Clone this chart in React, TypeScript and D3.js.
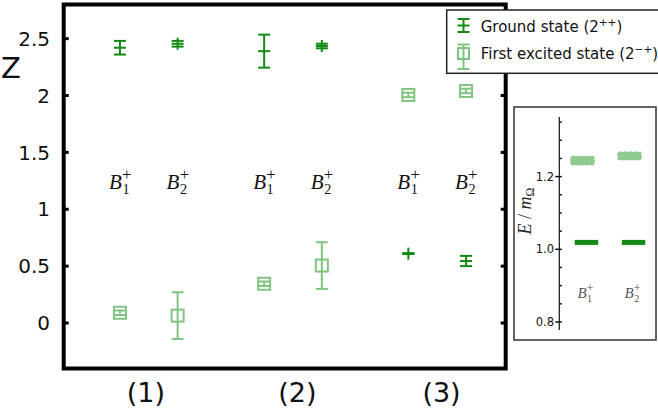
import React from "react";
import * as d3 from "d3";

// ---------- data ----------
const groupLabels = ["(1)", "(2)", "(3)"];
const groupPos = [1, 2, 3];
const labelPos = [0.98, 2.03, 3.03];
const channels = ["1", "2"]; // B1+, B2+
const channelOffset = [-0.2, 0.2];

// ground state (2++) per group, per channel
const groundZ = [
  [2.42, 2.455],
  [2.39, 2.435],
  [0.61, 0.545],
];
const groundErr = [
  [0.06, 0.025],
  [0.145, 0.02],
  [0.004, 0.045],
];
// first excited state (2-+)
const excitedZ = [
  [0.09, 0.065],
  [0.345, 0.505],
  [2.005, 2.04],
];
const excitedErr = [
  [0.02, 0.205],
  [0.02, 0.205],
  [0.02, 0.02],
];
const yTicks = [0, 0.5, 1, 1.5, 2, 2.5];
const yTickLabels = ["0", "0.5", "1", "1.5", "2", "2.5"];
const labelZ = 1.18;

// inset: E / m_Omega
const insetGround = [1.019, 1.019];
const insetExcited = [1.244, 1.257];
const insetExcitedHalf = [0.012, 0.011];
const insetMajor = [0.8, 1.0, 1.2];
const insetMajorLabels = ["0.8", "1.0", "1.2"];
const insetMinor = [0.8, 0.85, 0.9, 0.95, 1.0, 1.05, 1.1, 1.15, 1.2, 1.25, 1.3, 1.35];

const DARK = "#138a13";
const LIGHT = "#80c480";
const SANS = "DejaVu Sans";
const SERIF = "Liberation Serif";

function MathB({ x, y, sub, size, fill = "#111" }: any) {
  // x is the left edge of the "B"
  const bw = size * 0.64;
  return (
    <g fill={fill}>
      <text x={x} y={y} fontFamily={SERIF} fontStyle="italic" fontSize={size}>B</text>
      <text x={x + bw} y={y + size * 0.26} fontFamily={SERIF} fontSize={size * 0.68}>{sub}</text>
      <text x={x + bw - size * 0.02} y={y - size * 0.42} fontFamily={SERIF} fontSize={size * 0.8}>+</text>
    </g>
  );
}

function GroundMarker({ cx, cy, yTop, yBot, w = 12 }: any) {
  const h = w / 2;
  return (
    <g stroke={DARK} strokeWidth={2} fill="none">
      <line x1={cx} x2={cx} y1={Math.min(yTop, cy - 6)} y2={Math.max(yBot, cy + 6)} />
      <line x1={cx - h} x2={cx + h} y1={yTop} y2={yTop} />
      <line x1={cx - h} x2={cx + h} y1={yBot} y2={yBot} />
      <line x1={cx - h} x2={cx + h} y1={cy} y2={cy} />
    </g>
  );
}

function ExcitedMarker({ cx, cy, yTop, yBot, w = 12, s = 12 }: any) {
  const h = w / 2;
  return (
    <g stroke={LIGHT} strokeWidth={2} fill="none">
      <line x1={cx} x2={cx} y1={yTop} y2={yBot} />
      <line x1={cx - h} x2={cx + h} y1={yTop} y2={yTop} />
      <line x1={cx - h} x2={cx + h} y1={yBot} y2={yBot} />
      <rect x={cx - s / 2} y={cy - s / 2} width={s} height={s} />
    </g>
  );
}

export default function App() {
  const W = 658, H = 413;
  const x = d3.scaleLinear().domain([0.41, 3.475]).range([63.7, 505.7]);
  const y = d3.scaleLinear().domain([-0.4, 2.8]).range([368.5, 4.5]);

  const points: any[] = [];
  groupPos.forEach((g, gi) => {
    channels.forEach((c, ci) => {
      points.push({ gi, ci, xv: g + channelOffset[ci], sub: c });
    });
  });

  // inset scales
  const iy = d3.scaleLinear().domain([0.778, 1.364]).range([330, 117]);
  const ix = d3.scaleBand().domain(channels).range([568, 648]).paddingInner(0.5).paddingOuter(0.1);
  const iSpine = 559.3;

  return (
    <svg width={W} height={H} style={{ position: "absolute", left: 0, top: 0, background: "#fff" }}>
      <rect width={W} height={H} fill="#fff" />
      {/* main axes frame */}
      <rect x={x(0.41)} y={y(2.8)} width={x(3.475) - x(0.41)} height={y(-0.4) - y(2.8)} fill="none" stroke="#000" strokeWidth={4} />
      {/* y ticks */}
      {yTicks.map((t, i) => (
        <g key={t}>
          <line x1={x(0.41)} x2={x(0.41) + 5} y1={y(t)} y2={y(t)} stroke="#000" strokeWidth={3} />
          <line x1={x(3.475)} x2={x(3.475) - 5} y1={y(t)} y2={y(t)} stroke="#000" strokeWidth={3} />
          <text x={50} y={y(t)} dy="0.36em" textAnchor="end" fontFamily={SANS} fontSize={20} fill="#111">
            {yTickLabels[i]}
          </text>
        </g>
      ))}
      {/* x tick labels */}
      {groupLabels.map((l, i) => (
        <text key={l} x={x(labelPos[i])} y={402} textAnchor="middle" fontFamily={SANS} fontSize={27} fill="#111">
          {l}
        </text>
      ))}
      {/* y label */}
      <text x={11} y={78} textAnchor="middle" fontFamily={SANS} fontSize={29} fill="#111">Z</text>

      {/* markers */}
      {points.map((p, i) => {
        const cx = x(p.xv);
        const gz = groundZ[p.gi][p.ci], ge = groundErr[p.gi][p.ci];
        const ez = excitedZ[p.gi][p.ci], ee = excitedErr[p.gi][p.ci];
        return (
          <g key={i}>
            <ExcitedMarker cx={cx} cy={y(ez)} yTop={y(ez + ee)} yBot={y(ez - ee)} />
            <GroundMarker cx={cx} cy={y(gz)} yTop={y(gz + ge)} yBot={y(gz - ge)} />
            <MathB x={cx - 11} y={y(labelZ)} sub={p.sub} size={21} />
          </g>
        );
      })}

      {/* legend */}
      <rect x={446.7} y={10} width={230} height={63.3} fill="#fff" stroke="#222" strokeWidth={1.5} />
      <GroundMarker cx={463.5} cy={25.5} yTop={19} yBot={32} w={12} />
      <text x={480.7} y={32.3} fontFamily={SANS} fontSize={15} fill="#111">
        Ground state (2<tspan fontSize={10.5} dy={-6}>++</tspan><tspan dy={6}>)</tspan>
      </text>
      <ExcitedMarker cx={463.5} cy={53.5} yTop={44.5} yBot={69} w={12} s={11} />
      <text x={480.7} y={59} fontFamily={SANS} fontSize={15} fill="#111">
        First excited state (2<tspan fontSize={10.5} dy={-6}>−+</tspan><tspan dy={6}>)</tspan>
      </text>

      {/* inset */}
      <rect x={514} y={107} width={142} height={233} fill="#fff" stroke="#333" strokeWidth={1.5} />
      <line x1={iSpine} x2={iSpine} y1={117} y2={330} stroke="#111" strokeWidth={1.2} />
      {insetMinor.map((t) => (
        <line key={"m" + t} x1={iSpine} x2={iSpine + 2.5} y1={iy(t)} y2={iy(t)} stroke="#111" strokeWidth={1.5} />
      ))}
      {insetMajor.map((t, i) => (
        <g key={"M" + t}>
          <line x1={iSpine - 4} x2={iSpine} y1={iy(t)} y2={iy(t)} stroke="#111" strokeWidth={1.5} />
          <text x={554} y={iy(t)} dy="0.36em" textAnchor="end" fontFamily={SANS} fontSize={11.5} fill="#111">
            {insetMajorLabels[i]}
          </text>
        </g>
      ))}
      {channels.map((c, i) => {
        const bx = ix(c)!, bw = ix.bandwidth();
        return (
          <g key={"ib" + c}>
            <rect x={bx - 2} y={iy(insetExcited[i] + insetExcitedHalf[i])} width={bw}
              height={iy(insetExcited[i] - insetExcitedHalf[i]) - iy(insetExcited[i] + insetExcitedHalf[i])}
              fill="#8fca8f" stroke="#8fca8f" strokeWidth={1} strokeDasharray="3 2" rx={1.5} />
            <rect x={bx + 2} y={iy(insetGround[i]) - 2.5} width={bw} height={5} fill={DARK} />
            <MathB x={bx + bw / 2 - 7} y={298} sub={c} size={15} fill="#555" />
          </g>
        );
      })}
      <text transform="translate(531,211) rotate(-90)" textAnchor="middle" fontFamily={SERIF} fontSize={18} fill="#222">
        <tspan fontStyle="italic">E</tspan>
        <tspan> / </tspan>
        <tspan fontStyle="italic">m</tspan>
        <tspan fontSize={12} dy={3}>Ω</tspan>
      </text>
    </svg>
  );
}
